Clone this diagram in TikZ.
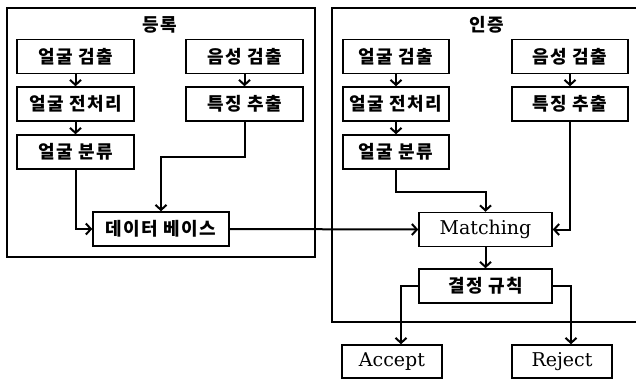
\documentclass[tikz,border=0pt]{standalone}
\usepackage{fontspec}
\setmainfont{DejaVu Serif}
\newfontfamily\kr{Noto Sans CJK KR}[LetterSpace=8]
\usetikzlibrary{arrows.meta}

\begin{document}
\begin{tikzpicture}[x=1pt, y=-1pt,
    blk/.style={draw, line width=1.5pt, minimum height=34pt, inner sep=0pt,
                font=\kr\bfseries\fontsize{18}{21}\selectfont},
    eng/.style={blk, font=\fontsize{19}{22}\selectfont},
    ttl/.style={font=\kr\bfseries\fontsize{18}{21}\selectfont},
    flow/.style={line width=2pt, -{Straight Barb[length=5pt, width=11pt]}},
]
\useasboundingbox (0,0) rectangle (636,380);

% Registration
\draw[line width=1.5pt] (7,8) rectangle (315,257);
\node[ttl] (regt) at (160,25) {등록};
\node[blk, minimum width=117pt] (lfdet) at (75.5,56.5) {얼굴 검출};
\node[blk, minimum width=117pt] (lfpre) at (75.5,104) {얼굴 전처리};
\node[blk, minimum width=117pt] (lfcls) at (75.5,152) {얼굴 분류};
\node[blk, minimum width=117pt] (lvdet) at (244.5,56.5) {음성 검출};
\node[blk, minimum width=117pt] (lvfeat) at (244.5,104) {특징 추출};
\node[blk, minimum width=136pt] (db) at (161,229) {데이터 베이스};

% Verification
\draw[line width=1.5pt] (332,8) rectangle (640,322);
\node[ttl] (vert) at (487,25) {인증};
\node[blk, minimum width=106pt] (rfdet) at (396,56.5) {얼굴 검출};
\node[blk, minimum width=106pt] (rfpre) at (396,104) {얼굴 전처리};
\node[blk, minimum width=106pt] (rfcls) at (396,152) {얼굴 분류};
\node[blk, minimum width=116pt] (rvdet) at (570,56.5) {음성 검출};
\node[blk, minimum width=116pt] (rvfeat) at (570,104) {특징 추출};
\node[eng, minimum width=133pt] (match) at (485.5,229.5) {Matching};
\node[blk, minimum width=133pt] (rule) at (485.5,286) {결정 규칙};

% Decisions
\node[eng, minimum width=100pt, minimum height=33pt] (acc) at (392,361.5) {Accept};
\node[eng, minimum width=100pt, minimum height=33pt] (rej) at (562,361.5) {Reject};

% Arrows
\foreach \a/\b in {lfdet/lfpre, lfpre/lfcls, lvdet/lvfeat, rfdet/rfpre, rfpre/rfcls, rvdet/rvfeat, match/rule} {
    \draw[flow] (\a) -- (\b);
}
\draw[flow] (lfcls.south) |- (db.west);
\draw[flow] (lvfeat.south) -- ++(0,35) -| (db.north);
\draw[flow] (db.east) -- (match.west);
\draw[flow] (rfcls.south) -- ++(0,22) -| (match.north);
\draw[flow] (rvfeat.south) |- (match.east);
\draw[flow] (rule.west) -| ([xshift=9pt]acc.north);
\draw[flow] (rule.east) -| ([xshift=9pt]rej.north);
\end{tikzpicture}
\end{document}
